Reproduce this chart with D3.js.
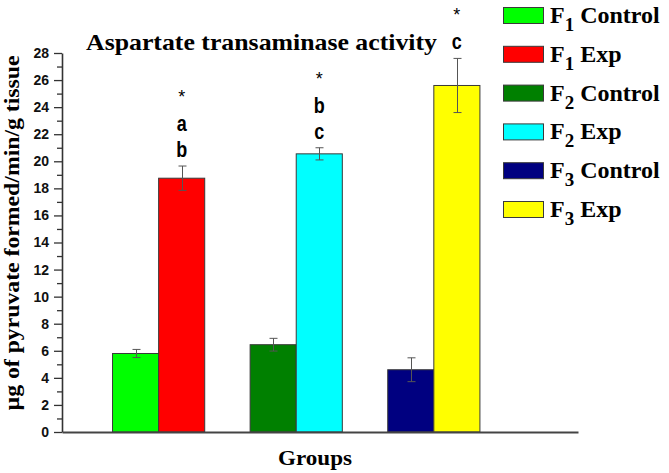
<!DOCTYPE html>
<html>
<head>
<meta charset="utf-8">
<script src="https://cdn.jsdelivr.net/npm/d3@7"></script>
<style>
  html, body { margin: 0; padding: 0; background: #fff; }
  svg { display: block; }
</style>
</head>
<body>
<svg id="chart" width="669" height="473"></svg>
<script>
// ---------------- data ----------------
const groups = ["F1", "F2", "F3"];
const seriesKeys = ["Control", "Exp"];
const controlValues = [5.8, 6.45, 4.6];
const controlErrors = [0.3, 0.47, 0.88];
const expValues = [18.75, 20.55, 25.6];
const expErrors = [0.9, 0.45, 2.0];
const expAnnotations = [["*", "a", "b"], ["*", "b", "c"], ["*", "c"]];
const legendLabels = [
  ["F", "1", " Control"], ["F", "1", " Exp"],
  ["F", "2", " Control"], ["F", "2", " Exp"],
  ["F", "3", " Control"], ["F", "3", " Exp"]
];
const barColors = ["#00ff00", "#ff0000", "#008000", "#00ffff", "#000080", "#ffff00"];
const yTicks = [0, 2, 4, 6, 8, 10, 12, 14, 16, 18, 20, 22, 24, 26, 28];
const titleText = "Aspartate transaminase activity";
const yTitleText = "µg of pyruvate formed/min/g tissue";
const xTitleText = "Groups";

// ---------------- layout ----------------
const svg = d3.select("#chart");
const plot = { left: 62, right: 578, top: 53, bottom: 432 };

const x0 = d3.scaleBand().domain(groups).range([plot.left, plot.right])
  .paddingInner(0.33).paddingOuter(0.54).align(0.34);
const x1 = d3.scaleBand().domain(seriesKeys).range([0, x0.bandwidth()]).padding(0);
const y = d3.scaleLinear().domain([0, 28]).range([plot.bottom, plot.top]);

const rows = [];
groups.forEach((g, i) => {
  rows.push({ g, key: "Control", v: controlValues[i], e: controlErrors[i], c: barColors[i * 2], ann: [] });
  rows.push({ g, key: "Exp", v: expValues[i], e: expErrors[i], c: barColors[i * 2 + 1], ann: expAnnotations[i] });
});

// bars
svg.append("g").selectAll("rect").data(rows).join("rect")
  .attr("x", d => x0(d.g) + x1(d.key))
  .attr("y", d => y(d.v))
  .attr("width", x1.bandwidth())
  .attr("height", d => y(0) - y(d.v))
  .attr("fill", d => d.c)
  .attr("stroke", "#3a3a3a")
  .attr("stroke-width", 1);

// error bars
const eb = svg.append("g").attr("stroke", "#555").attr("stroke-width", 1).attr("fill", "none");
rows.forEach(d => {
  const cx = Math.round(x0(d.g) + x1(d.key) + x1.bandwidth() / 2) + 0.5;
  const y1 = y(d.v + d.e), y2 = y(d.v - d.e);
  eb.append("line").attr("x1", cx).attr("x2", cx).attr("y1", y1).attr("y2", y2);
  eb.append("line").attr("x1", cx - 4).attr("x2", cx + 4).attr("y1", y1).attr("y2", y1);
  eb.append("line").attr("x1", cx - 4).attr("x2", cx + 4).attr("y1", y2).attr("y2", y2);
});

// annotations above exp bars
const ann = svg.append("g").attr("font-family", "'Liberation Sans', Arial, sans-serif")
  .attr("text-anchor", "middle").attr("fill", "#000");
rows.filter(d => d.ann.length).forEach(d => {
  const cx = x0(d.g) + x1(d.key) + x1.bandwidth() / 2;
  const base = y(d.v + d.e) - 9;
  const n = d.ann.length;
  d.ann.forEach((t, j) => {
    const k = n - 1 - j;
    const isStar = t === "*";
    const by = base - k * 26 - (isStar ? 2 : 0);
    ann.append("text")
      .attr("transform", `translate(${cx},${by}) scale(1,${isStar ? 1 : 1.2})`)
      .attr("font-size", 18)
      .attr("font-weight", isStar ? "normal" : "bold")
      .text(t);
  });
});

// y axis
const yAxis = svg.append("g").attr("transform", `translate(${plot.left},0)`);
yAxis.call(d3.axisLeft(y).tickValues(yTicks).tickSize(8).tickSizeOuter(0).tickPadding(5)
  .tickFormat(d3.format("d")));
yAxis.selectAll(".tick text").attr("font-family", "'Liberation Sans', Arial, sans-serif")
  .attr("font-weight", "bold").attr("font-size", 14).attr("fill", "#111");
// minor ticks
yAxis.selectAll(".minor").data(d3.range(1, 28, 2)).join("line")
  .attr("class", "minor").attr("x1", -5).attr("x2", 0)
  .attr("y1", d => y(d) + 0.5).attr("y2", d => y(d) + 0.5);
yAxis.selectAll("line").attr("stroke", "#333").attr("stroke-width", 1.3);
yAxis.select(".domain").attr("stroke", "#333").attr("stroke-width", 1.6);

// x axis line
const xAxis = svg.append("g").attr("transform", `translate(0,${plot.bottom})`);
xAxis.call(d3.axisBottom(d3.scaleLinear().range([plot.left, plot.right])).ticks(0).tickSize(0).tickSizeOuter(0));
xAxis.selectAll("text").remove();
xAxis.select(".domain").attr("stroke", "#444").attr("stroke-width", 2);

// titles
svg.append("text").attr("x", 86).attr("y", 50)
  .attr("font-family", "'Liberation Serif', 'Times New Roman', serif")
  .attr("font-weight", "bold").attr("font-size", 24)
  .attr("textLength", 351).attr("lengthAdjust", "spacingAndGlyphs")
  .text(titleText);

svg.append("text")
  .attr("transform", "translate(19,233) rotate(-90)")
  .attr("text-anchor", "middle")
  .attr("font-family", "'Liberation Serif', 'Times New Roman', serif")
  .attr("font-weight", "bold").attr("font-size", 20)
  .attr("textLength", 355).attr("lengthAdjust", "spacingAndGlyphs")
  .text(yTitleText);

svg.append("text").attr("x", 315).attr("y", 465).attr("text-anchor", "middle")
  .attr("font-family", "'Liberation Serif', 'Times New Roman', serif")
  .attr("font-weight", "bold").attr("font-size", 20)
  .attr("textLength", 74).attr("lengthAdjust", "spacingAndGlyphs")
  .text(xTitleText);

// legend
const legend = svg.append("g");
legendLabels.forEach((lab, i) => {
  const ty = 7 + i * 38.8;
  legend.append("rect").attr("x", 503.5).attr("y", ty + 0.5).attr("width", 40).attr("height", 16)
    .attr("fill", barColors[i]).attr("stroke", "#3a3a3a").attr("stroke-width", 1);
  const t = legend.append("text").attr("x", 550).attr("y", ty + 16)
    .attr("font-family", "'Liberation Serif', 'Times New Roman', serif")
    .attr("font-weight", "bold").attr("font-size", 24).attr("fill", "#000");
  t.append("tspan").text(lab[0]);
  t.append("tspan").attr("font-size", 19).attr("dy", 8).text(lab[1]);
  t.append("tspan").attr("dy", -8).text(lab[2]);
});
</script>
</body>
</html>
